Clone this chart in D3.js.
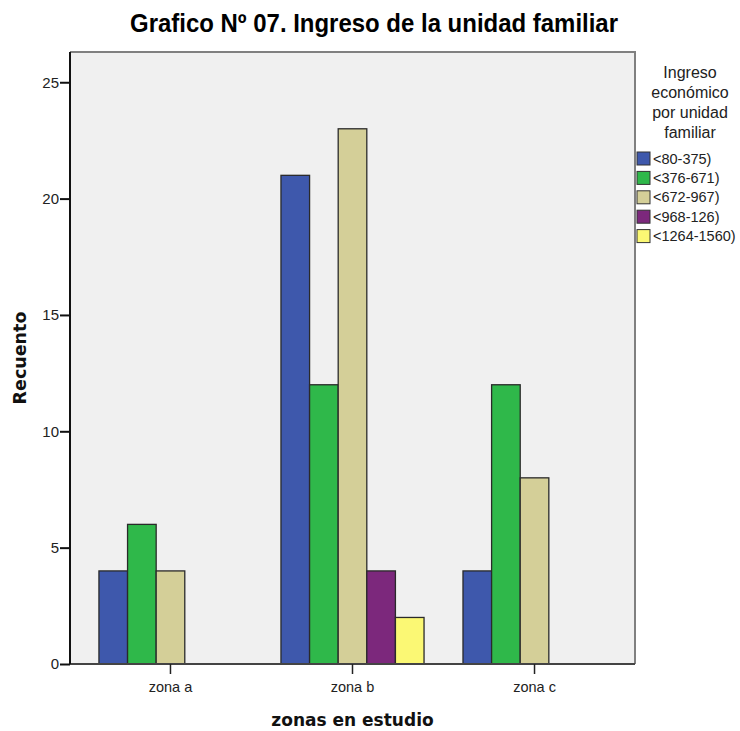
<!DOCTYPE html>
<html><head><meta charset="utf-8">
<script src="https://cdn.jsdelivr.net/npm/d3@7"></script>
<style>
body{margin:0;background:#fff;}
text{font-family:"Liberation Sans Narrow","Arial Narrow","Liberation Sans",Arial,sans-serif;}
</style></head>
<body><svg id="c" width="740" height="731"></svg>
<script>
const categories = ["zona a","zona b","zona c"];
const seriesNames = ["<80-375)","<376-671)","<672-967)","<968-126)","<1264-1560)"];
const v80_375   = [4,21,4];
const v376_671  = [6,12,12];
const v672_967  = [4,23,8];
const v968_126  = [0,4,0];
const v1264_1560= [0,2,0];
const seriesValues = [v80_375,v376_671,v672_967,v968_126,v1264_1560];
const colors = ["#3e58ac","#2fb84a","#d4cf98","#7c287c","#fbf874"];
const yTicks = [0,5,10,15,20,25];

const svg = d3.select("#c");
const L=70,R=635,T=52,B=664;
const x0 = d3.scaleBand().domain(categories).range([L,R]).paddingInner(0.214).paddingOuter(0.159);
const x1 = d3.scaleBand().domain(seriesNames).range([0,x0.bandwidth()]);
const y = d3.scaleLinear().domain([0,26.3]).range([B,T]);

svg.append("rect").attr("x",L).attr("y",T).attr("width",R-L).attr("height",B-T).attr("fill","#f0f0f0");
svg.append("path").attr("d",`M${L},${T}H${R}V${B}`).attr("fill","none").attr("stroke","#808080").attr("stroke-width",2);

const data=[];
categories.forEach((c,i)=>seriesNames.forEach((s,j)=>{ if(seriesValues[j][i]>0) data.push({c,s,v:seriesValues[j][i],col:colors[j]}); }));
svg.append("g").selectAll("rect").data(data).join("rect")
 .attr("x",d=>x0(d.c)+x1(d.s)).attr("y",d=>y(d.v))
 .attr("width",x1.bandwidth()).attr("height",d=>y(0)-y(d.v))
 .attr("fill",d=>d.col).attr("stroke","#2a2a2a").attr("stroke-width",1.3);

// bottom axis
const xa = svg.append("g").attr("transform",`translate(0,${B})`)
 .call(d3.axisBottom(x0).tickSize(10).tickSizeOuter(0));
xa.select(".domain").attr("d",`M${L},0H${R}`).attr("stroke","#444").attr("stroke-width",2);
xa.selectAll(".tick line").attr("stroke","#222").attr("stroke-width",1.5);
xa.selectAll(".tick text").attr("y",18).attr("font-size",14.5).attr("fill","#222")
 .style("font-family","'Liberation Sans',Arial,sans-serif").attr("dy","0.71em");

// left axis
const ya = svg.append("g").attr("transform",`translate(${L},0)`)
 .call(d3.axisLeft(y).tickValues(yTicks).tickSize(10).tickSizeOuter(0));
ya.select(".domain").attr("d",`M0,${T}V${B}`).attr("stroke","#111").attr("stroke-width",2);
ya.selectAll(".tick line").attr("stroke","#111").attr("stroke-width",2);
ya.selectAll(".tick text").attr("x",-11).attr("font-size",15).attr("fill","#222")
 .style("font-family","'Liberation Sans',Arial,sans-serif");

// title
svg.append("text").attr("x",374).attr("y",32).attr("text-anchor","middle")
 .attr("font-size",26).attr("font-weight","bold").attr("fill","#000")
 .attr("textLength",488).attr("lengthAdjust","spacingAndGlyphs")
 .text("Grafico Nº 07. Ingreso de la unidad familiar");

// axis titles
svg.append("text").attr("x",352.5).attr("y",726).attr("text-anchor","middle")
 .attr("font-size",17).attr("font-weight","bold").attr("fill","#111")
 .style("font-family","'DejaVu Sans',sans-serif").text("zonas en estudio");
svg.append("text").attr("transform","translate(26,358) rotate(-90)").attr("text-anchor","middle")
 .attr("font-size",17.5).attr("font-weight","bold").attr("fill","#111")
 .style("font-family","'DejaVu Sans',sans-serif").text("Recuento");

// legend
const lt = ["Ingreso","económico","por unidad","familiar"];
svg.append("g").selectAll("text").data(lt).join("text")
 .attr("x",690).attr("y",(d,i)=>78+i*20).attr("text-anchor","middle")
 .attr("font-size",16).attr("fill","#222").text(d=>d);
const lg = svg.append("g").selectAll("g").data(seriesNames).join("g")
 .attr("transform",(d,i)=>`translate(637,${152+i*19.4})`);
lg.append("rect").attr("width",13).attr("height",13).attr("fill",(d,i)=>colors[i]).attr("stroke","#333").attr("stroke-width",1);
lg.append("text").attr("x",16).attr("y",11.5).attr("font-size",14.5).attr("fill","#222").text(d=>d);
</script></body></html>
